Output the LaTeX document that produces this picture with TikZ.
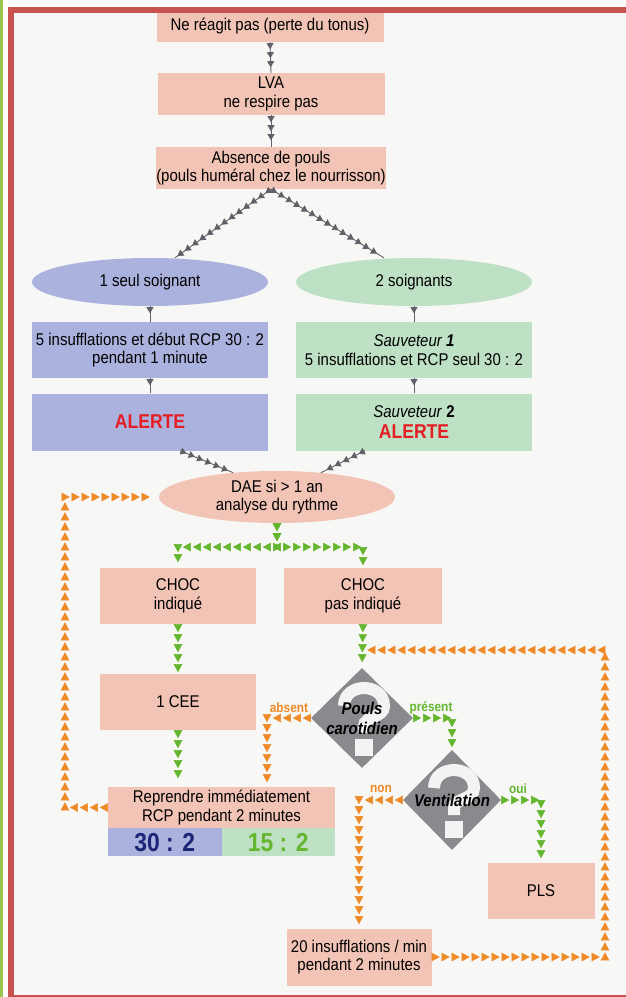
\documentclass[tikz,border=0pt]{standalone}
\usepackage{fontspec}
\setmainfont{Liberation Sans}[FakeStretch=0.88]
\usetikzlibrary{shapes.geometric,arrows.meta,decorations.markings}
\definecolor{rosebox}{RGB}{242,196,182}
\definecolor{bluebox}{RGB}{172,178,222}
\definecolor{greenbox}{RGB}{190,224,196}
\definecolor{arrgray}{RGB}{96,96,104}
\definecolor{arrorange}{RGB}{238,138,40}
\definecolor{arrgreen}{RGB}{100,182,46}
\definecolor{alertred}{RGB}{228,30,36}
\definecolor{navy}{RGB}{28,36,118}
\definecolor{framered}{RGB}{200,82,80}
\definecolor{framegreen}{RGB}{150,198,80}
\definecolor{paper}{RGB}{247,247,246}
\definecolor{diagray}{RGB}{138,138,142}
\newcommand\alerttxt{\textcolor{alertred}{\fontsize{20}{21}\selectfont\bfseries ALERTE}}
\begin{document}
\begin{tikzpicture}[x=1pt,y=-1pt,
  every node/.style={font=\fontsize{17}{18.5}\selectfont,align=center,inner sep=0pt},
  box/.style={rectangle,fill=rosebox,minimum height=42pt},
  bbox/.style={rectangle,fill=bluebox,minimum width=236pt,minimum height=56pt},
  gbox/.style={rectangle,fill=greenbox,minimum width=236pt,minimum height=56pt},
  qline/.style={draw=white!90!diagray,line width=12pt},
  dtext/.style={font=\fontsize{17}{20}\selectfont\bfseries\itshape},
  lab/.style={font=\fontsize{13.5}{14}\selectfont\bfseries},
  ratio/.style={minimum width=113.5pt,minimum height=28pt,font=\fontsize{26}{26}\selectfont\bfseries},
  chain/.style={decorate,decoration={markings,
    mark=between positions 8pt and 1 step 10pt with {\arrow[#1]{Triangle[length=8pt,width=8.5pt]}}}},
  ochain/.style={chain=arrorange},
  gchain/.style={chain=arrgreen},
  kchain/.style={draw=arrgray,line width=0.9pt,postaction={decorate,decoration={markings,
    mark=between positions 7pt and 1 step 9pt with {\arrow[arrgray]{Triangle[length=6pt,width=7pt]}}}}}]
\useasboundingbox(0,0)rectangle(626,997);
\fill[paper](14,13)rectangle(626,995);
%
\node[box,minimum width=227pt,minimum height=32pt](nr)at(270,26){Ne réagit pas (perte du tonus)};
\node[box,minimum width=227pt](lva)at(271,94){LVA\\ne respire pas};
\node[box,minimum width=227pt](abs)at(271,168){Absence de pouls\\(pouls huméral chez le nourrisson)};
%
\node[ellipse,fill=bluebox,minimum width=236pt,minimum height=48pt](seul)at(150,282){1 seul soignant};
\node[ellipse,fill=greenbox,minimum width=236pt,minimum height=48pt](deux)at(414,282){2 soignants};
\node[bbox](b1)at(150,350){5 insufflations et début RCP 30 : 2\\pendant 1 minute};
\node[gbox](g1)at(414,350){\textit{Sauveteur \textbf{1}}\\5 insufflations et RCP seul 30 : 2};
\node[bbox,minimum height=57pt](b2)at(150,422){\alerttxt};
\node[gbox,minimum height=57pt](g2)at(414,422){\textit{Sauveteur} \textbf{2}\\[2pt]\alerttxt};
%
\node[ellipse,fill=rosebox,minimum width=236pt,minimum height=52pt](dae)at(277,497){DAE si > 1 an\\analyse du rythme};
\node[box,minimum width=156pt,minimum height=56pt](choc1)at(178,596){CHOC\\indiqué};
\node[box,minimum width=158pt,minimum height=56pt](choc2)at(363,596){CHOC\\pas indiqué};
\node[box,minimum width=156pt,minimum height=56pt](cee)at(178,702){1 CEE};
\node[box,minimum width=227pt,minimum height=41pt](rep)at(221.5,807.5){Reprendre immédiatement\\RCP pendant 2 minutes};
\node[ratio,fill=bluebox,anchor=north west,text=navy](r30)at(rep.south west){30 : 2};
\node[ratio,fill=greenbox,anchor=north east,text=arrgreen](r15)at(rep.south east){15 : 2};
%
\node[diamond,fill=diagray,minimum width=102pt,minimum height=100pt](pouls)at(362,718){};
\draw[qline]([shift={(-18,-12)}]pouls.center)..controls([shift={(-18,-36)}]pouls.center)and([shift={(22,-36)}]pouls.center)..([shift={(22,-12)}]pouls.center)
  ..controls([shift={(22,0)}]pouls.center)and([shift={(2,-2)}]pouls.center)..([shift={(2,8)}]pouls.center)--([shift={(2,15)}]pouls.center);
\fill[white!90!diagray]([shift={(-7,21)}]pouls.center)rectangle([shift={(11,38)}]pouls.center);
\node[dtext](t1)at(pouls.center){Pouls\\carotidien};
%
\node[diamond,fill=diagray,minimum width=98pt,minimum height=100pt](vent)at(452,800){};
\draw[qline]([shift={(-18,-12)}]vent.center)..controls([shift={(-18,-36)}]vent.center)and([shift={(22,-36)}]vent.center)..([shift={(22,-12)}]vent.center)
  ..controls([shift={(22,0)}]vent.center)and([shift={(2,-2)}]vent.center)..([shift={(2,8)}]vent.center)--([shift={(2,15)}]vent.center);
\fill[white!90!diagray]([shift={(-7,21)}]vent.center)rectangle([shift={(11,38)}]vent.center);
\node[dtext](t2)at(vent.center){Ventilation};
%
\node[box,minimum width=107pt,minimum height=56pt](pls)at(541,891){PLS};
\node[box,minimum width=145pt,minimum height=57pt](ins)at(359,957){20 insufflations / min\\pendant 2 minutes};
%
\node[lab,text=arrorange](labs)at(289,708){absent};
\node[lab,text=arrgreen](lpres)at(431,708){présent};
\node[lab,text=arrorange](lnon)at(381,789){non};
\node[lab,text=arrgreen](loui)at(518,789){oui};
%
\coordinate(splitY)at(0,547);
\coordinate(loopL)at(65,0);
\coordinate(loopR)at(605,650);
\coordinate(cAbs)at(267,0);
%
\draw[kchain](nr.south)--(lva.north);
\draw[kchain](lva.south)--(abs.north);
\draw[kchain](abs.south)--([xshift=25pt]seul.north);
\draw[kchain](abs.south)--([xshift=-30pt]deux.north);
\draw[kchain](seul.south)--(b1.north);
\draw[kchain](b1.south)--(b2.north);
\draw[kchain](deux.south)--(g1.north);
\draw[kchain](g1.south)--(g2.north);
\draw[kchain]([xshift=30pt]b2.south)--(dae.151);
\draw[kchain]([xshift=-49pt]g2.south)--(dae.29);
%
\path[gchain](dae.south)--(dae.south|-splitY)--(splitY-|choc1)--(choc1.north);
\path[gchain](dae.south)--(dae.south|-splitY)--(splitY-|choc2)--(choc2.north);
\path[gchain](choc1.south)--(cee.north);
\path[gchain](cee.south)--(rep.north-|cee);
\path[gchain](choc2.south)--(pouls.north);
\path[gchain](pouls.east)--(pouls.east-|vent)--(vent.north);
\path[gchain](vent.east)--(vent.east-|pls)--(pls.north);
%
\path[ochain](pouls.west)--(pouls.west-|cAbs)--(rep.north-|cAbs);
\path[ochain](vent.west)--(vent.west-|ins)--(ins.north);
\path[ochain](rep.west)--(rep.west-|loopL)--(dae.west-|loopL)--(dae.west);
\path[ochain](ins.east)--(ins.east-|loopR)--(loopR)--(loopR-|choc2);
%
\fill[framegreen](0,0)rectangle(3,997);
\draw[framered,line width=6pt](11,997)--(11,10)--(626,10);
\draw[framered,line width=2pt](8,996)--(626,996);
\end{tikzpicture}
\end{document}
